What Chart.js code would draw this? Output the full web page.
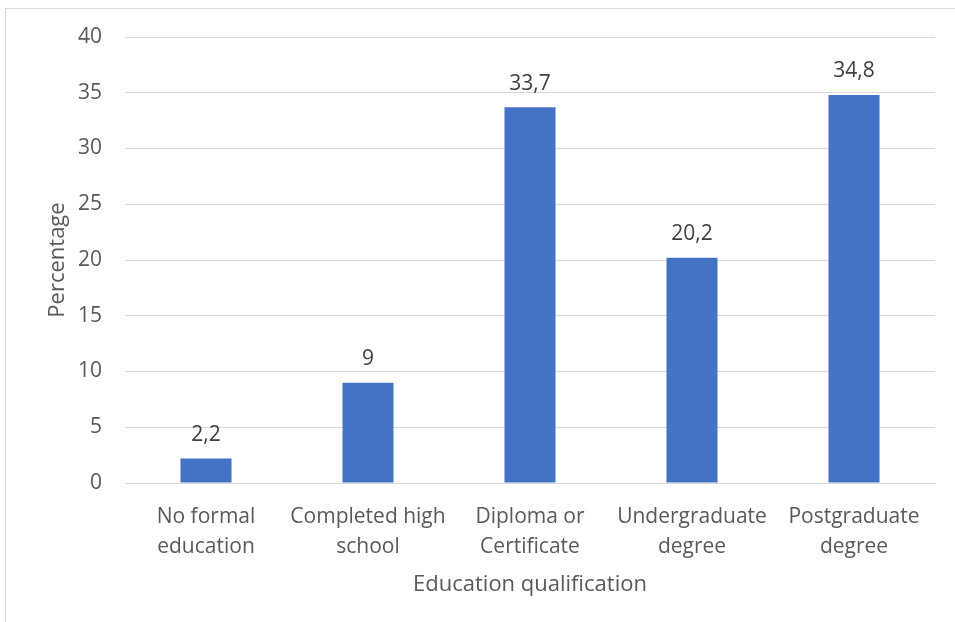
<!DOCTYPE html>
<html>
<head>
<meta charset="utf-8">
<script src="https://cdn.jsdelivr.net/npm/chart.js@4"></script>
<style>
  html, body { margin: 0; padding: 0; background: #fff; }
  #wrap { position: relative; width: 955px; height: 622px; overflow: hidden; }
  #frame { position: absolute; left: 5px; top: 8px; width: 1000px; height: 700px;
           border-left: 1px solid #d9d9d9; border-top: 1px solid #d9d9d9; }
  canvas { position: absolute; left: 0; top: 0; }
</style>
</head>
<body>
<div id="wrap">
  <div id="frame"></div>
  <canvas id="c" width="955" height="622"></canvas>
</div>
<script>
const categories = [
  ["No formal", "education"],
  ["Completed high", "school"],
  ["Diploma or", "Certificate"],
  ["Undergraduate", "degree"],
  ["Postgraduate", "degree"]
];
const percentages = [2.2, 9, 33.7, 20.2, 34.8];
const yTicks = [0, 5, 10, 15, 20, 25, 30, 35, 40];
const xTitle = "Education qualification";
const yTitle = "Percentage";

const FONT = "'Open Sans', Lato, sans-serif";

const valueLabels = {
  id: 'valueLabels',
  afterDatasetsDraw(chart) {
    const ctx = chart.ctx;
    const meta = chart.getDatasetMeta(0);
    ctx.save();
    ctx.font = "21px " + FONT;
    ctx.fillStyle = "#404040";
    ctx.textAlign = "center";
    ctx.textBaseline = "bottom";
    meta.data.forEach((bar, i) => {
      const txt = String(percentages[i]).replace('.', ',');
      ctx.fillText(txt, bar.x, bar.y - 13);
    });
    ctx.restore();
  }
};

new Chart(document.getElementById('c'), {
  type: 'bar',
  data: {
    labels: categories,
    datasets: [{
      data: percentages,
      backgroundColor: '#4472C4',
      barPercentage: 0.63,
      categoryPercentage: 0.5
    }]
  },
  options: {
    responsive: false,
    animation: false,
    layout: { padding: { left: 0, right: 20, top: 37, bottom: 0 } },
    plugins: { legend: { display: false }, tooltip: { enabled: false } },
    scales: {
      x: {
        grid: { display: false, drawTicks: false },
        border: { color: '#d9d9d9', width: 1 },
        ticks: { color: '#595959', font: { family: FONT, size: 21, lineHeight: 1.43 }, padding: 19, maxRotation: 0 },
        title: { display: true, text: xTitle, color: '#595959', font: { family: FONT, size: 22 }, padding: { top: 0, bottom: 24 } },
        afterFit(scale) { scale.height = 139; }
      },
      y: {
        min: 0, max: 40,
        afterBuildTicks(scale) { scale.ticks = yTicks.map(v => ({ value: v })); },
        grid: { color: '#d9d9d9', drawTicks: false },
        border: { display: false },
        ticks: { color: '#595959', font: { family: FONT, size: 21 }, padding: 23 },
        title: { display: true, text: yTitle, color: '#595959', font: { family: FONT, size: 22 }, padding: { top: 45, bottom: 0 } },
        afterFit(scale) { scale.width = 125; }
      }
    }
  },
  plugins: [valueLabels]
});
</script>
</body>
</html>
